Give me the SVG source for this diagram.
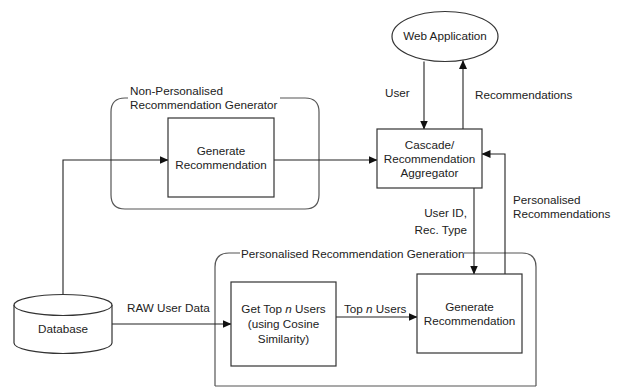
<svg xmlns="http://www.w3.org/2000/svg" width="617" height="388" viewBox="0 0 617 388">
<style>
text{font-family:"Liberation Sans",Arial,sans-serif;font-size:11.7px;fill:#222}
.c{text-anchor:middle}
.e{text-anchor:end}
.box{fill:#fff;stroke:#333;stroke-width:1.2}
.grp{fill:none;stroke:#555;stroke-width:1.2}
.ln{fill:none;stroke:#222;stroke-width:1.1}
</style>
<defs>
<marker id="ah" markerWidth="9" markerHeight="8" refX="8.5" refY="4" orient="auto" markerUnits="userSpaceOnUse">
<path d="M0,0 L9,4 L0,8 Z" fill="#111"/>
</marker>
</defs>
<rect width="617" height="388" fill="#fff"/>

<g id="nonpersonal-group">
<path class="grp" d="M128,98 L125,98 Q111,98 111,112 L111,195 Q111,209 125,209 L305,209 Q319,209 319,195 L319,112 Q319,98 305,98 L280,98"/>
<text x="130" y="95">Non-Personalised</text>
<text x="130" y="108.5">Recommendation Generator</text>
</g>

<g id="personal-group">
<path class="grp" d="M240,253 L229,253 Q215,253 215,267 L215,386 M215,386 L536,386 M536,386 L536,267 Q536,253 522,253 L464,253"/>
<text x="241" y="257.5">Personalised Recommendation Generation</text>
</g>

<g id="connectors">
<path class="ln" d="M63,294 L63,160 L168,160" marker-end="url(#ah)"/>
<path class="ln" d="M274,160 L377,160" marker-end="url(#ah)"/>
<path class="ln" d="M424,61.5 L424,129" marker-end="url(#ah)"/>
<path class="ln" d="M463,129 L463,60.5" marker-end="url(#ah)"/>
<path class="ln" d="M474,188 L474,274" marker-end="url(#ah)"/>
<path class="ln" d="M505,274 L505,154 L482,154" marker-end="url(#ah)"/>
<path class="ln" d="M112,324 L231,324" marker-end="url(#ah)"/>
<path class="ln" d="M336,317 L417,317" marker-end="url(#ah)"/>
<text x="385" y="97">User</text>
<text x="475" y="98.5">Recommendations</text>
<text class="e" x="467" y="217">User ID,</text>
<text class="e" x="467" y="233.5">Rec. Type</text>
<text x="513" y="204">Personalised</text>
<text x="513" y="217.5">Recommendations</text>
<text x="127" y="312">RAW User Data</text>
<text x="344" y="313">Top <tspan font-style="italic">n</tspan> Users</text>
</g>

<g id="web-application">
<ellipse class="box" cx="445" cy="36.5" rx="53" ry="25"/>
<text class="c" x="445" y="40">Web Application</text>
</g>

<g id="aggregator">
<rect class="box" x="377" y="129" width="105" height="59"/>
<text class="c" x="429.5" y="149">Cascade/</text>
<text class="c" x="429.5" y="163">Recommendation</text>
<text class="c" x="429.5" y="176.5">Aggregator</text>
</g>

<g id="np-generate">
<rect class="box" x="168" y="118" width="106" height="79"/>
<text class="c" x="221" y="155">Generate</text>
<text class="c" x="221" y="168.5">Recommendation</text>
</g>

<g id="database">
<path class="box" d="M14,305 A49,10.5 0 0,1 112,305 L112,343 A49,10.5 0 0,1 14,343 Z"/>
<path class="box" d="M14,305 A49,10.5 0 0,0 112,305"/>
<text class="c" x="63" y="333">Database</text>
</g>

<g id="get-top-n">
<rect class="box" x="231" y="282" width="105" height="84"/>
<text class="c" x="283.5" y="313">Get Top <tspan font-style="italic">n</tspan> Users</text>
<text class="c" x="283.5" y="327.5">(using Cosine</text>
<text class="c" x="283.5" y="342.5">Similarity)</text>
</g>

<g id="p-generate">
<rect class="box" x="417" y="274" width="105" height="79"/>
<text class="c" x="469.5" y="311">Generate</text>
<text class="c" x="469.5" y="325">Recommendation</text>
</g>
</svg>
